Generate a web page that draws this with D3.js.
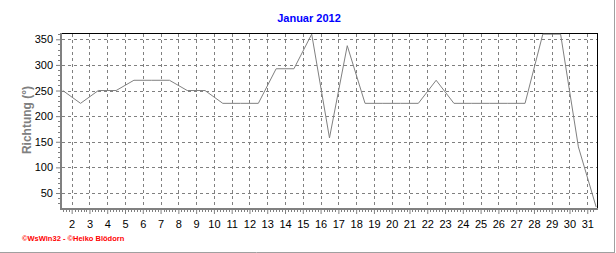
<!DOCTYPE html>
<html><head><meta charset="utf-8">
<script src="https://cdn.jsdelivr.net/npm/d3@7"></script>
<style>
html,body{margin:0;padding:0;background:#fff;}
svg{display:block;font-family:"Liberation Sans",Arial,sans-serif;}
</style></head>
<body>
<script>
// Data
const days = d3.range(1, 32);
const direction = [250,225,250,250,270,270,270,250,250,225,225,225,292.5,292.5,360,157.5,337.5,225,225,225,225,270,225,225,225,225,225,360,360,140,22.5];
const yTicks = [50,100,150,200,250,300,350];
const xTicks = d3.range(2, 32);
const title = "Januar 2012";
const yLabel = "Richtung (°)";
const footer = "©WsWin32 - ©Heiko Blödorn";

const W = 616, H = 253;
const svg = d3.select("body").append("svg").attr("width", W).attr("height", H);

const x = d3.scaleLinear().domain([1.4, 31.53]).range([61, 596.7]);
const y = d3.scaleLinear().domain([20.7, 361.7]).range([208, 33.3]);

// outer shadow border
svg.append("line").attr("x1", 0).attr("x2", 615).attr("y1", 252.5).attr("y2", 252.5).attr("stroke", "#a0a0a0");
svg.append("line").attr("x1", 614.5).attr("x2", 614.5).attr("y1", 0).attr("y2", 253).attr("stroke", "#a0a0a0");

// title
svg.append("text").attr("x", 309).attr("y", 22).attr("text-anchor", "middle")
  .attr("font-size", 11).attr("font-weight", "bold").attr("fill", "#0000ff").text(title);

// grid
const g = svg.append("g");
g.selectAll(".hg").data(yTicks).join("line")
  .attr("x1", 62).attr("x2", 597).attr("y1", d => Math.round(y(d)) + 0.5).attr("y2", d => Math.round(y(d)) + 0.5)
  .attr("stroke", "#808080").attr("stroke-dasharray", "3,3");
g.selectAll(".vg").data(xTicks).join("line")
  .attr("x1", d => Math.round(x(d)) + 0.5).attr("x2", d => Math.round(x(d)) + 0.5).attr("y1", 34).attr("y2", 208)
  .attr("stroke", "#808080").attr("stroke-dasharray", "3,3");

// frame top/right
svg.append("line").attr("x1", 61).attr("x2", 598).attr("y1", 33.5).attr("y2", 33.5).attr("stroke", "#000");
svg.append("line").attr("x1", 597.5).attr("x2", 597.5).attr("y1", 33).attr("y2", 209).attr("stroke", "#000");

// data line
const line = d3.line().x((d, i) => x(days[i] + 0.5)).y(d => y(d));
svg.append("path").datum(direction).attr("d", line)
  .attr("fill", "none").attr("stroke", "#808080").attr("stroke-width", 1);

// y axis
const yAxis = d3.axisLeft(y).tickValues(yTicks).tickSize(5).tickPadding(3);
const ya = svg.append("g").attr("transform", "translate(61,0)").call(yAxis);
ya.select(".domain").remove();
ya.selectAll(".tick line").attr("stroke", "#808080");
ya.selectAll(".tick text").attr("font-size", 11).attr("fill", "#000").attr("font-family", "Liberation Sans, Arial, sans-serif");
const yMinor = d3.range(30, 361, 10).filter(v => v % 50 !== 0);
svg.selectAll(".ymin").data(yMinor).join("line")
  .attr("x1", 58).attr("x2", 61).attr("y1", d => Math.round(y(d)) + 0.5).attr("y2", d => Math.round(y(d)) + 0.5)
  .attr("stroke", "#808080");
svg.append("line").attr("x1", 61).attr("x2", 61).attr("y1", 33).attr("y2", 210).attr("stroke", "#808080").attr("stroke-width", 2);

// x axis
const xAxis = d3.axisBottom(x).tickValues(xTicks).tickSize(5).tickPadding(6).tickFormat(d3.format("d"));
const xa = svg.append("g").attr("transform", "translate(0,209)").call(xAxis);
xa.select(".domain").remove();
xa.selectAll(".tick line").attr("stroke", "#808080");
xa.selectAll(".tick text").attr("font-size", 11).attr("fill", "#000").attr("font-family", "Liberation Sans, Arial, sans-serif");
const xMinor = d3.range(1.5, 31.5, 1 / 6).filter(v => Math.abs(v - Math.round(v)) > 0.01 && x(v) > 62 && x(v) < 597);
svg.selectAll(".xmin").data(xMinor).join("line")
  .attr("x1", d => Math.round(x(d)) + 0.5).attr("x2", d => Math.round(x(d)) + 0.5).attr("y1", 209).attr("y2", 212)
  .attr("stroke", "#808080");
svg.append("line").attr("x1", 60).attr("x2", 598).attr("y1", 209).attr("y2", 209).attr("stroke", "#808080").attr("stroke-width", 2);

// y label
svg.append("text").attr("transform", "translate(31,120) rotate(-90)").attr("text-anchor", "middle")
  .attr("font-size", 12).attr("font-weight", "bold").attr("fill", "#808080").text(yLabel);

// footer
svg.append("text").attr("x", 22).attr("y", 241).attr("font-size", 7.5).attr("font-weight", "bold")
  .attr("fill", "#ff0000").text(footer);
</script>
</body></html>
